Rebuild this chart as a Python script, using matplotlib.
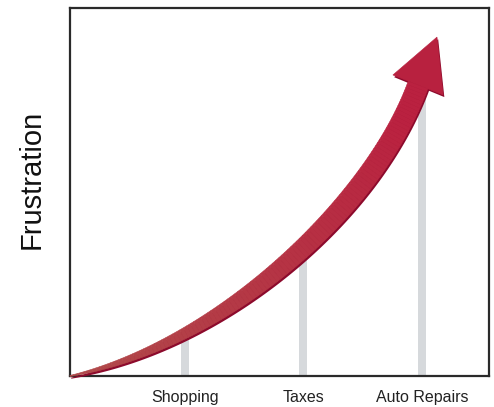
import numpy as np
import matplotlib
matplotlib.use("Agg")
from matplotlib import pyplot as plt
from matplotlib.collections import PolyCollection
from matplotlib.patches import Polygon
import matplotlib.transforms as mtransforms

plt.rcParams['font.family'] = ['Liberation Sans', 'DejaVu Sans']

categories = ["Shopping", "Taxes", "Auto Repairs"]
positions = [1, 2, 3]
frustration = [12, 32, 78]

# arrow path (data units): start, two control points, neck of the head, tip
arrow_ctrl = [(0.03, 0.0), (1.296, 8.4), (2.579, 45.1), (2.967, 79.1)]
arrow_tip = (3.127, 92.1)

fig = plt.figure(figsize=(4.94, 4.07), dpi=100)
ax = fig.add_axes([70 / 494, 31 / 407, 419 / 494, 368 / 407])
ax.set_xlim(0.03, 3.566)
ax.set_ylim(0, 100)

ax.bar(positions, frustration, width=0.068, color='#D6D9DC', zorder=1)

# build the curved arrow in display space, then go back to data
t = np.linspace(0, 1, 120)
P = np.array(arrow_ctrl)
curve = ((1 - t) ** 3)[:, None] * P[0] + (3 * (1 - t) ** 2 * t)[:, None] * P[1] \
    + (3 * (1 - t) * t ** 2)[:, None] * P[2] + (t ** 3)[:, None] * P[3]
disp = ax.transData.transform(curve)
d = np.gradient(disp, axis=0)
d /= np.linalg.norm(d, axis=1)[:, None]
nrm = np.column_stack([-d[:, 1], d[:, 0]])
w = 0.5 + 10 * np.sin(np.pi / 2 * np.clip(t / 0.8, 0, 1))
left = disp + nrm * w[:, None]
right = disp - nrm * w[:, None]

tip = ax.transData.transform(arrow_tip)
neck = disp[-1]
hd = (tip - neck) / np.linalg.norm(tip - neck)
hn = np.array([-hd[1], hd[0]])
head = np.array([neck + hn * 27, tip, neck - hn * 27])

inv = ax.transData.inverted()
outline = np.vstack([left, head, right[::-1]])

shadow = mtransforms.offset_copy(ax.transData, fig=fig, x=1.2, y=-2.2, units='dots')
ax.add_patch(Polygon(inv.transform(outline), closed=True, facecolor='#8C0A2C',
                     edgecolor='none', transform=shadow, zorder=3, clip_on=False))

c0 = np.array([0.69, 0.29, 0.29])
c1 = np.array([0.73, 0.13, 0.25])
quads, cols = [], []
for i in range(len(t) - 1):
    q = np.array([left[i], left[i + 1], right[i + 1], right[i]])
    quads.append(inv.transform(q))
    s = min(1.0, t[i] / 0.9)
    cols.append(c0 * (1 - s) + c1 * s)
pc = PolyCollection(quads, facecolors=cols, edgecolors=cols, linewidths=0.4,
                    zorder=4, clip_on=False)
ax.add_collection(pc)
ax.add_patch(Polygon(inv.transform(head), closed=True, facecolor='#B8213F',
                     edgecolor='#B8213F', linewidth=0.4, zorder=4, clip_on=False))

ax.set_xticks(positions)
ax.set_xticklabels(categories, fontsize=11.5, color='#222222')
ax.set_yticks([])
ax.tick_params(axis='x', length=0, pad=10)
for sp in ax.spines.values():
    sp.set_color('#2a2a2a')
    sp.set_linewidth(1.6)
    sp.set_zorder(2)

ax.set_ylabel("Frustration", fontsize=21, color='#111111')
ax.yaxis.set_label_coords(-0.058, 0.533)

fig.savefig("out.png", dpi=100)
